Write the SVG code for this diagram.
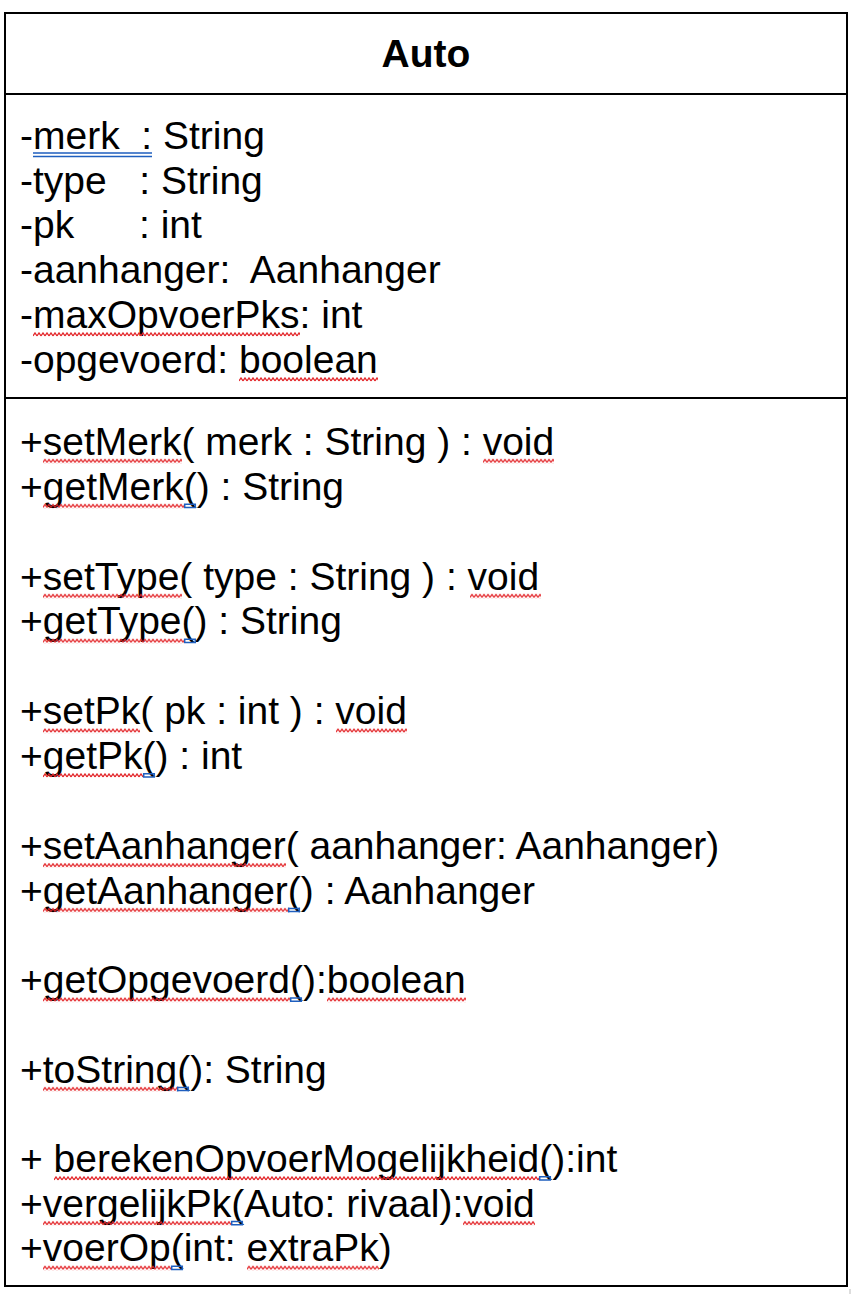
<svg xmlns="http://www.w3.org/2000/svg" width="852" height="1294" viewBox="0 0 852 1294">
<style>
.t{font-family:"Liberation Sans",Arial,sans-serif;font-size:39px;fill:#000;white-space:pre}
.title{font-family:"Liberation Sans",Arial,sans-serif;font-size:39px;font-weight:bold;fill:#000}
.box{fill:#fff;stroke:#000;stroke-width:2}
.div{stroke:#000;stroke-width:2}
.blue{stroke:#1f5fbf;stroke-width:1.5;fill:none}
</style>
<defs>
<pattern id="wave" width="4" height="5" patternUnits="userSpaceOnUse">
<path d="M0,4 L2,1 L4,4" fill="none" stroke="#e3262a" stroke-width="1.3"/>
</pattern>
<g id="bm"><path class="blue" d="M0,0.8 H12 M0,4 H12 M0.7,0 V4.8 M11.3,0 V4.8"/></g>
</defs>
<g id="auto">
<rect class="box" x="5" y="13" width="842" height="1273"/>
<line class="div" x1="5" y1="94" x2="847" y2="94"/>
<line class="div" x1="5" y1="398" x2="847" y2="398"/>
<text class="title" x="426" y="67" text-anchor="middle">Auto</text>
<g id="attributes">
<text class="t" x="20" y="148.5">-merk  : String</text>
<text class="t" x="20" y="193.5">-type   : String</text>
<text class="t" x="20" y="238.3">-pk<tspan x="139">: int</tspan></text>
<text class="t" x="20" y="283.1">-aanhanger:  Aanhanger</text>
<text class="t" x="20" y="327.9">-maxOpvoerPks: int</text>
<text class="t" x="20" y="372.7">-opgevoerd: boolean</text>
</g>
<g id="methods">
<text class="t" x="20" y="454.5">+setMerk( merk : String ) : void</text>
<text class="t" x="20" y="499.5">+getMerk() : String</text>
<text class="t" x="20" y="589.5">+setType( type : String ) : void</text>
<text class="t" x="20" y="634.4">+getType() : String</text>
<text class="t" x="20" y="724.2">+setPk( pk : int ) : void</text>
<text class="t" x="20" y="769">+getPk() : int</text>
<text class="t" x="20" y="858.8">+setAanhanger( aanhanger: Aanhanger)</text>
<text class="t" x="20" y="903.6">+getAanhanger() : Aanhanger</text>
<text class="t" x="20" y="993.2">+getOpgevoerd():boolean</text>
<text class="t" x="20" y="1082.6">+toString(): String</text>
<text class="t" x="20" y="1172">+ berekenOpvoerMogelijkheid():int</text>
<text class="t" x="20" y="1216.8">+vergelijkPk(Auto: rivaal):void</text>
<text class="t" x="20" y="1261.4">+voerOp(int: extraPk)</text>
</g>
<g id="spellcheck">
<path class="blue" d="M33,153 H152 M33,156.5 H152"/>
<rect transform="translate(33 332)" width="267" height="5" fill="url(#wave)"/>
<rect transform="translate(239 377)" width="139" height="5" fill="url(#wave)"/>
<rect transform="translate(43 458.5)" width="139" height="5" fill="url(#wave)"/>
<rect transform="translate(483 458.5)" width="71" height="5" fill="url(#wave)"/>
<rect transform="translate(43 503.5)" width="141" height="5" fill="url(#wave)"/>
<use href="#bm" transform="translate(184 503.5)"/>
<rect transform="translate(43 593.5)" width="139" height="5" fill="url(#wave)"/>
<rect transform="translate(470 593.5)" width="71" height="5" fill="url(#wave)"/>
<rect transform="translate(43 638.4)" width="141" height="5" fill="url(#wave)"/>
<use href="#bm" transform="translate(184 638.4)"/>
<rect transform="translate(43 728.2)" width="97" height="5" fill="url(#wave)"/>
<rect transform="translate(336 728.2)" width="71" height="5" fill="url(#wave)"/>
<rect transform="translate(43 773)" width="100" height="5" fill="url(#wave)"/>
<use href="#bm" transform="translate(143 773)"/>
<rect transform="translate(43 862.8)" width="243" height="5" fill="url(#wave)"/>
<rect transform="translate(43 907.6)" width="245" height="5" fill="url(#wave)"/>
<use href="#bm" transform="translate(288 907.6)"/>
<rect transform="translate(43 997.2)" width="247" height="5" fill="url(#wave)"/>
<use href="#bm" transform="translate(290 997.2)"/>
<rect transform="translate(327 997.2)" width="139" height="5" fill="url(#wave)"/>
<rect transform="translate(43 1086.6)" width="134" height="5" fill="url(#wave)"/>
<use href="#bm" transform="translate(177 1086.6)"/>
<rect transform="translate(54 1176)" width="485" height="5" fill="url(#wave)"/>
<use href="#bm" transform="translate(539 1176)"/>
<rect transform="translate(43 1220.8)" width="188" height="5" fill="url(#wave)"/>
<use href="#bm" transform="translate(231 1220.8)"/>
<rect transform="translate(463 1220.8)" width="72" height="5" fill="url(#wave)"/>
<rect transform="translate(43 1265.4)" width="128" height="5" fill="url(#wave)"/>
<use href="#bm" transform="translate(171 1265.4)"/>
<rect transform="translate(247 1265.4)" width="132" height="5" fill="url(#wave)"/>
</g>
</g>
<line x1="850" y1="1289" x2="850" y2="1294" stroke="#bbb" stroke-width="1"/>
</svg>
